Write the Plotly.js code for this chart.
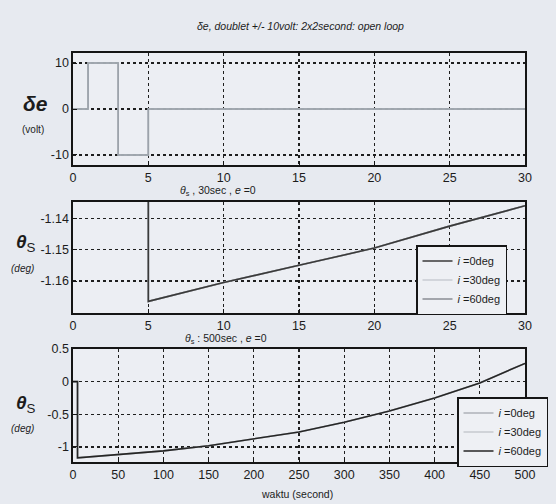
<!DOCTYPE html>
<html>
<head>
<meta charset="utf-8">
<script src="https://cdn.plot.ly/plotly-3.0.1.min.js"></script>
<style>
  html, body { margin: 0; padding: 0; background: #e7eaf0; }
  #chart { width: 556px; height: 504px; }
</style>
</head>
<body>
<div id="chart"></div>
<script>
// Elevator doublet input (volt) over the first 30 seconds
var tDoublet = [0, 1, 1, 3, 3, 5, 5, 30];
var deDoublet = [0, 0, 10, 10, -10, -10, 0, 0];

// Pitch response theta_s (deg), 30 second window
var t30 = [0, 5, 5, 10, 15, 20, 25, 30];
var theta30 = [0, 0, -1.1665, -1.1605, -1.155, -1.1495, -1.1425, -1.136];

// Pitch response theta_s (deg), 500 second window
var t500 = [0, 5, 5, 50, 100, 150, 200, 250, 300, 350, 400, 450, 500];
var theta500 = [0, 0, -1.167, -1.12, -1.06, -0.98, -0.88, -0.77, -0.62, -0.45, -0.25, -0.02, 0.28];

// Inclination cases shown in the legends
var incLabels = ['<i>i</i> =0deg', '<i>i</i> =30deg', '<i>i</i> =60deg'];

var W = 556, H = 504;
function px(x) { return x / W; }
function py(y) { return 1 - y / H; }

var FONT = 'Liberation Sans, Arial, sans-serif';

var traces = [];
var shades1 = ['#a7adb5', '#b3b8bf', '#9ca2aa'];
var shades2 = ['#3a3a3a', '#c9cdd3', '#8a8e94'];
var shades3 = ['#aeb2b8', '#c6cacf', '#262626'];
var order2 = [2, 1, 0];
var order3 = [0, 1, 2];

for (var k = 0; k < 3; k++) {
  traces.push({
    x: tDoublet, y: deDoublet, xaxis: 'x', yaxis: 'y',
    mode: 'lines', line: {color: shades1[k], width: 1.5},
    showlegend: false, hoverinfo: 'skip'
  });
}
order2.forEach(function (k) {
  traces.push({
    x: t30, y: theta30, xaxis: 'x2', yaxis: 'y2',
    mode: 'lines', line: {color: shades2[k], width: 1.6},
    name: incLabels[k], legend: 'legend', legendrank: k + 1
  });
});
order3.forEach(function (k) {
  traces.push({
    x: t500, y: theta500, xaxis: 'x3', yaxis: 'y3',
    mode: 'lines', line: {color: shades3[k], width: 1.6},
    name: incLabels[k], legend: 'legend2', legendrank: k + 1
  });
});

function xAxis(range, dtick, anchor) {
  return {
    domain: [px(73), px(525)], anchor: anchor, range: range, dtick: dtick,
    showline: true, mirror: true, linecolor: '#151515', linewidth: 1.6,
    ticks: 'inside', ticklen: 4, tickcolor: '#151515',
    showgrid: true, gridcolor: '#1e1e1e', gridwidth: 1.3, griddash: '3px,3px',
    zeroline: false, fixedrange: true,
    tickfont: {family: FONT, size: 12.5, color: '#1c1c1c'}
  };
}
function yAxis(domain, range, tickvals, ticktext, anchor) {
  return {
    domain: domain, anchor: anchor, range: range,
    tickmode: 'array', tickvals: tickvals, ticktext: ticktext,
    showline: true, mirror: true, linecolor: '#151515', linewidth: 1.6,
    ticks: 'inside', ticklen: 4, tickcolor: '#151515',
    showgrid: true, gridcolor: '#1e1e1e', gridwidth: 1.3, griddash: '3px,3px',
    zeroline: false, fixedrange: true,
    tickfont: {family: FONT, size: 12.5, color: '#1c1c1c'}
  };
}

var legendCommon = {
  bgcolor: '#eef0f4', bordercolor: '#151515', borderwidth: 1.5,
  font: {family: FONT, size: 11, color: '#1c1c1c'},
  xanchor: 'left', yanchor: 'top', itemwidth: 30, tracegroupgap: 0,
  traceorder: 'normal'
};

var layout = {
  width: W, height: H,
  margin: {l: 0, r: 0, t: 0, b: 0},
  paper_bgcolor: '#e7eaf0', plot_bgcolor: '#eceef3',
  showlegend: true,
  xaxis: xAxis([0, 30], 5, 'y'),
  yaxis: yAxis([py(165), py(53)], [-12.2, 12.2], [-10, 0, 10], ['-10', '0', '10'], 'x'),
  xaxis2: xAxis([0, 30], 5, 'y2'),
  yaxis2: yAxis([py(313), py(202)], [-1.1702, -1.1348], [-1.16, -1.15, -1.14], ['-1.16', '-1.15', '-1.14'], 'x2'),
  xaxis3: xAxis([0, 500], 50, 'y3'),
  yaxis3: yAxis([py(462), py(349)], [-1.23, 0.5], [-1, -0.5, 0, 0.5], ['-1', '-0.5', '0', '0.5'], 'x3'),
  legend: Object.assign({x: px(416), y: py(245)}, legendCommon),
  legend2: Object.assign({x: px(457), y: py(397)}, legendCommon),
  annotations: [
    {text: '<i>δe, doublet +/- 10volt: 2x2second: open loop</i>', x: px(300), y: py(26),
     font: {size: 10.5}},
    {text: '<i>θ</i><sub>s</sub> , 30sec , <i>e</i> =0', x: px(218), y: py(191),
     font: {size: 10.5}},
    {text: '<i>θ</i><sub>s</sub> : 500sec , <i>e</i> =0', x: px(226), y: py(339),
     font: {size: 10.5}},
    {text: '<b><i>δe</i></b>', x: px(35), y: py(104), font: {size: 21}},
    {text: '(volt)', x: px(33), y: py(129), font: {size: 10}},
    {text: '<b><i>θ</i></b><sub>S</sub>', x: px(26), y: py(243), font: {size: 19}},
    {text: '<i>(deg)</i>', x: px(22), y: py(268), font: {size: 10}},
    {text: '<b><i>θ</i></b><sub>S</sub>', x: px(26), y: py(404), font: {size: 19}},
    {text: '<i>(deg)</i>', x: px(22), y: py(428), font: {size: 10}},
    {text: 'waktu (second)', x: px(297), y: py(494), font: {size: 10.5}}
  ].map(function (a) {
    a.xref = 'paper'; a.yref = 'paper'; a.showarrow = false;
    a.xanchor = 'center'; a.yanchor = 'middle';
    a.font = Object.assign({family: FONT, color: '#1c1c1c'}, a.font);
    return a;
  })
};

Plotly.newPlot('chart', traces, layout, {displayModeBar: false, staticPlot: true});
</script>
</body>
</html>
